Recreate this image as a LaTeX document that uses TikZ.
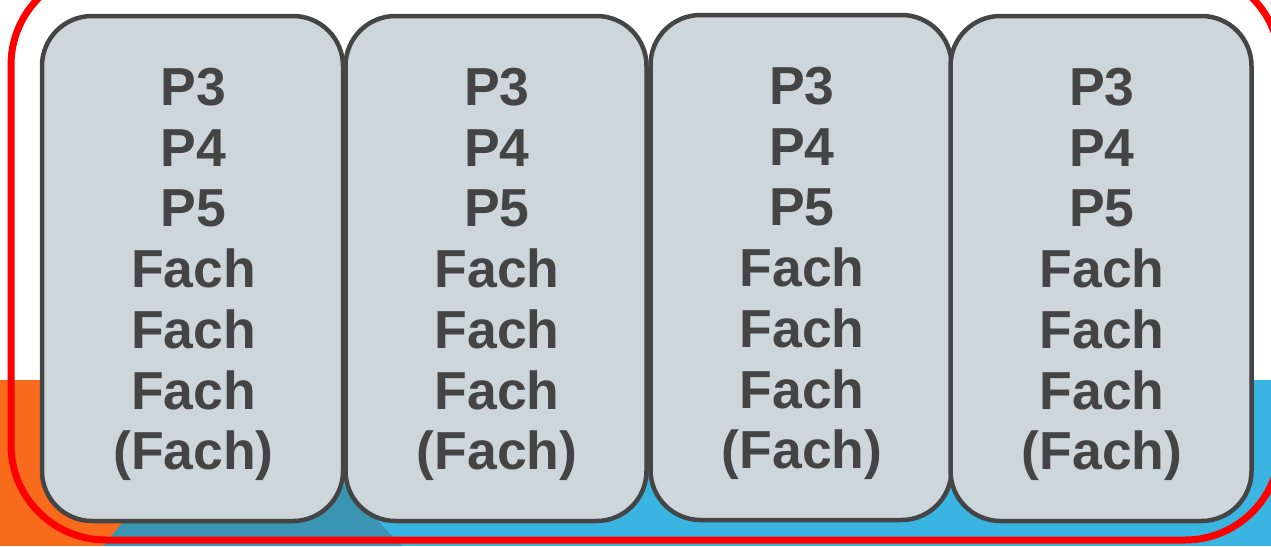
\documentclass[tikz,border=0pt]{standalone}
\usepackage{fontspec}
\setmainfont{Liberation Sans}
\definecolor{bandorange}{HTML}{F96B1C}
\definecolor{bandblue}{HTML}{3AB4E1}
\definecolor{bandteal}{HTML}{3A95B3}
\definecolor{boxfill}{HTML}{CDD6DA}
\definecolor{boxline}{HTML}{454545}
\definecolor{txt}{HTML}{444444}
\tikzset{
  slot/.style={draw=boxline, fill=boxfill, line width=4.5pt, rounded corners=50pt,
    minimum width=301pt, minimum height=505pt, inner sep=0pt},
  lbl/.style={text=txt, align=center, inner sep=0pt, anchor=north,
    font=\bfseries\fontsize{53.5}{60.7}\selectfont},
  frame/.style={draw=red, line width=7pt, rounded corners=95pt}
}
\begin{document}
\begin{tikzpicture}[x=1pt,y=-1pt]
\useasboundingbox (0,0) rectangle (1271,546);
\clip (0,0) rectangle (1271,546);
% background band
\fill[bandorange] (0,380) rectangle (242,546);
\fill[bandblue] (242,380) rectangle (1271,546);
\fill[bandteal] (242,380) -- (103,546) -- (402,546) -- cycle;
% red frame
\draw[frame] (11,-30) rectangle (1280,540);
% boxes
\node[slot] (b1) at (192.5,268.5) {};
\node[slot] (b2) at (496,268.5) {};
\node[slot] (b3) at (801,267.5) {};
\node[slot] (b4) at (1101,268.5) {};
\foreach \b in {b1,b2,b3,b4}{
  \node[lbl] (t\b) at ([xshift=1pt,yshift=200.5pt]\b.center) {P3\\P4\\P5\\Fach\\Fach\\Fach\\(Fach)};
}
\end{tikzpicture}
\end{document}
